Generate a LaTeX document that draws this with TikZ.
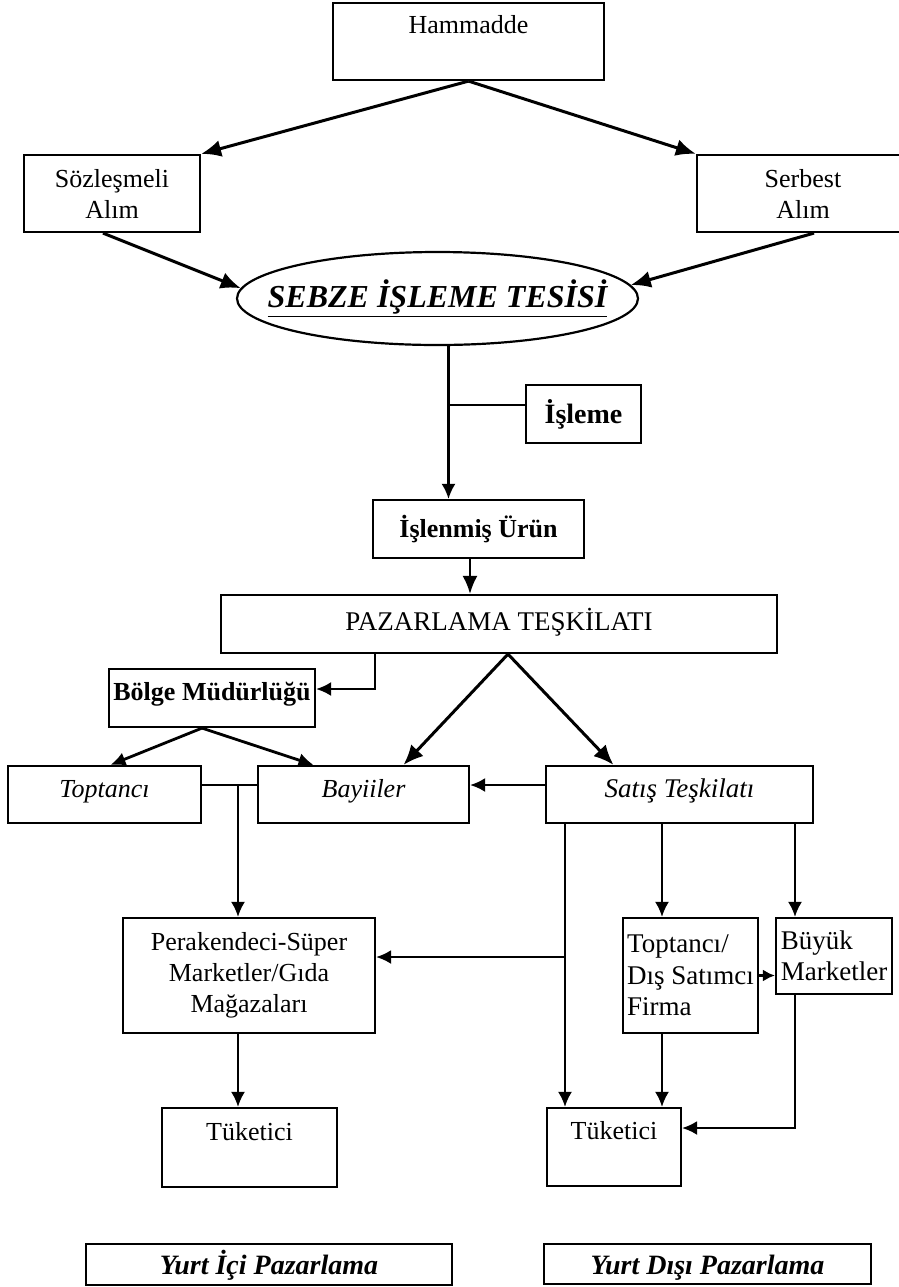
\documentclass[tikz,border=0pt]{standalone}
\usepackage{fontspec}
\setmainfont{Liberation Serif}
\usetikzlibrary{arrows.meta,shapes.geometric}

\begin{document}
\begin{tikzpicture}[x=0.5pt,y=-0.5pt,
    kutu/.style={draw,black,line width=1.1pt,inner sep=0pt,align=center,font=\fontsize{13}{15.5}\selectfont},
    ok/.style={-{Latex[length=7.5pt,width=7pt]},line width=1.1pt},
    kalin/.style={-{Latex[length=10pt,width=8.5pt]},line width=1.5pt},
    cizgi/.style={line width=1.1pt}]

    \useasboundingbox (0,0) rectangle (899,1287);

    % hammadde
    \node[kutu,minimum width=135.5pt,text height=15pt,text depth=23.5pt] (ham) at (468.5,41.5) {Hammadde};
    \node[kutu,minimum width=88pt,minimum height=38.5pt] (sozl) at (112,193.5) {Sözleşmeli\\Alım};
    \node[kutu,minimum width=106pt,minimum height=38.5pt] (serb) at (803,193.5) {Serbest\\Alım};
    % tesis
    \node[draw,ellipse,line width=1.1pt,inner xsep=-45pt,inner ysep=0pt,minimum width=200.5pt,minimum height=46.5pt,
          font=\fontsize{16}{19}\selectfont\bfseries\itshape] (tesis) at (437.5,298.5) {\underline{SEBZE İŞLEME TESİSİ}};

    \draw[kalin] (ham.south) -- (sozl.north east);
    \draw[kalin] (ham.south) -- (serb.north west);
    \draw[kalin] ([xshift=-4.5pt]sozl.south) -- (tesis.177);
    \draw[kalin] ([xshift=5.5pt]serb.south) -- (tesis.4);

    % isleme
    \node[kutu,font=\fontsize{14}{17}\selectfont\bfseries,minimum width=57.5pt,text height=19pt,text depth=10pt] (isl) at (583.5,414) {İşleme};
    \node[kutu,font=\fontsize{13}{15.5}\selectfont\bfseries,minimum width=105.5pt,minimum height=29pt] (isu) at (478.5,529) {İşlenmiş Ürün};
    \node[kutu,font=\fontsize{13.5}{16}\selectfont,minimum width=278pt,text height=17.5pt,text depth=11.5pt] (paz) at (499,624) {PAZARLAMA TEŞKİLATI};

    \coordinate (t1) at ([xshift=5.5pt]tesis.south);
    \coordinate (islw) at ([yshift=4.5pt]isl.west);
    \draw[ok] (t1) -- (t1 |- isu.north);
    \draw[cizgi] (islw) -- (islw -| t1);
    \coordinate (u1) at ([xshift=-4.25pt]isu.south);
    \draw[ok,-{Latex[length=9pt,width=7.5pt]}] (u1) -- (u1 |- paz.north);

    % ikinci kat
    \node[kutu,font=\fontsize{13}{15.5}\selectfont\bfseries,minimum width=103pt,text height=15.5pt,text depth=13.5pt] (bolge) at (212,698) {Bölge Müdürlüğü};
    \node[kutu,font=\fontsize{13}{15.5}\selectfont\itshape,minimum width=96.5pt,text height=15.5pt,text depth=13pt] (topt) at (104.5,794.5) {Toptancı};
    \node[kutu,font=\fontsize{13}{15.5}\selectfont\itshape,minimum width=105.5pt,text height=15.5pt,text depth=13pt] (bay) at (363.5,794.5) {Bayiiler};
    \node[kutu,font=\fontsize{13.5}{16}\selectfont\itshape,minimum width=133.5pt,text height=15.5pt,text depth=13pt] (satis) at (679.5,794.5) {Satış Teşkilatı};

    \coordinate (p1) at ([xshift=-62pt]paz.south);
    \draw[ok] (p1) |- ([yshift=4.5pt]bolge.east);
    \coordinate (p2) at ([xshift=4.5pt]paz.south);
    \draw[kalin] (p2) -- ([xshift=20pt]bay.north);
    \draw[kalin] (p2) -- ([xshift=-33pt]satis.north);
    \coordinate (b1) at ([xshift=-5pt]bolge.south);
    \draw[ok,line width=1.4pt] (b1) -- ([xshift=3pt]topt.north);
    \draw[ok,line width=1.4pt] (b1) -- ([xshift=-25pt]bay.north);
    \draw[ok] ([yshift=4.75pt]satis.west) -- ([yshift=4.75pt]bay.east);
    \draw[cizgi] ([yshift=4.75pt]topt.east) -- ([yshift=4.75pt]bay.west);

    % alt kat
    \node[kutu,minimum width=126pt,minimum height=57.5pt] (perak) at (249,975.5) {Perakendeci-Süper\\Marketler/Gıda\\Mağazaları};
    \node[kutu,align=left,font=\fontsize{13.5}{15.75}\selectfont,minimum width=67.5pt,minimum height=57.5pt] (tds) at (690.5,975.5) {Toptancı/\\Dış Satımcı\\Firma};
    \node[kutu,align=left,font=\fontsize{13.5}{15.75}\selectfont,minimum width=58pt,minimum height=38pt] (buyuk) at (834,956) {Büyük\\Marketler};
    \node[kutu,minimum width=87.5pt,text height=16pt,text depth=23.5pt] (tuk1) at (249.5,1147.5) {Tüketici};
    \node[kutu,minimum width=67pt,text height=15.5pt,text depth=23.5pt] (tuk2) at (614,1147) {Tüketici};

    \coordinate (j1) at (238,785);
    \draw[ok] (j1) -- (j1 |- perak.north);
    \draw[ok] (j1 |- perak.south) -- (j1 |- tuk1.north);

    \coordinate (s1) at ([xshift=-57.25pt]satis.south);
    \coordinate (s2) at ([xshift=-14.25pt]tds.north);
    \coordinate (s3) at ([xshift=-19.5pt]buyuk.north);
    \coordinate (k1) at ([yshift=9.25pt]perak.east);
    \draw[ok] (s1) -- (s1 |- tuk2.north);
    \draw[ok] (k1 -| s1) -- (k1);
    \draw[ok] (s2 |- satis.south) -- (s2);
    \draw[ok] (s3 |- satis.south) -- (s3);
    \draw[ok,-{Latex[length=6pt,width=6pt]}] (tds.east) -- (tds.east -| buyuk.west);
    \draw[ok] (s2 |- tds.south) -- (s2 |- tuk2.north);
    \draw[ok] (s3 |- buyuk.south) |- ([yshift=9.5pt]tuk2.east);

    % pazarlama turu
    \node[kutu,line width=1.3pt,font=\fontsize{14}{17}\selectfont\bfseries\itshape,minimum width=183pt,text height=15pt,text depth=5.5pt] (yip) at (269,1264.5) {Yurt İçi Pazarlama};
    \node[kutu,line width=1.3pt,font=\fontsize{14}{17}\selectfont\bfseries\itshape,minimum width=163.5pt,text height=15pt,text depth=5pt] (ydp) at (707.5,1264) {Yurt Dışı Pazarlama};
\end{tikzpicture}
\end{document}
